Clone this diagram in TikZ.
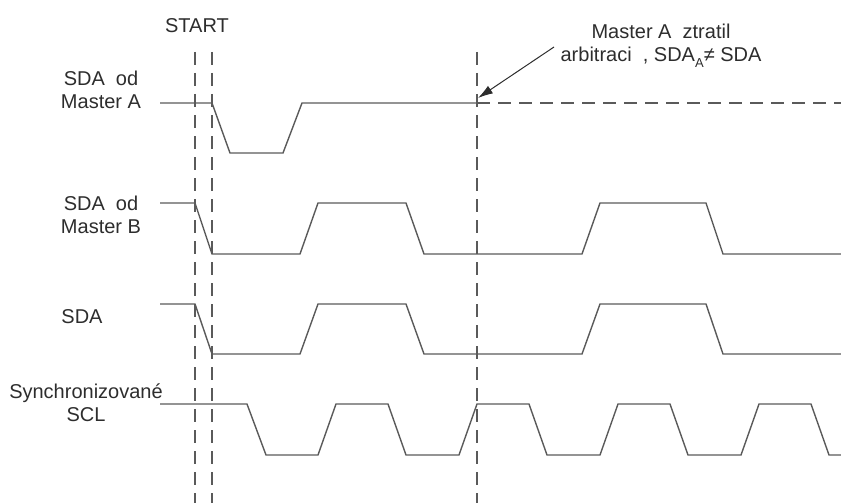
\documentclass[tikz,border=0pt]{standalone}
\usepackage{fontspec}
\setmainfont{Liberation Sans}
\usetikzlibrary{arrows.meta}
\definecolor{wire}{RGB}{90,90,90}
\definecolor{ink}{RGB}{45,45,45}

\begin{document}
\begin{tikzpicture}[x=1pt, y=-1pt, sig/.style={draw=wire, line width=1.4pt}, guide/.style={draw=wire, line width=1.2pt, dash pattern=on 13pt off 8pt}, lbl/.style={text=ink, font=\fontsize{20}{23}\selectfont, align=center, inner sep=0pt}]

        \useasboundingbox (0,0) rectangle (841,503);

        % labels
        \node[lbl] (start) at (197,26) {START};
        \node[lbl] (masterA) at (101,90) {SDA~~od\\Master A};
        \node[lbl] (masterB) at (101,215) {SDA~~od\\Master B};
        \node[lbl] (sda) at (82,317) {SDA};
        \node[lbl] (scl) at (86,403) {Synchronizované\\SCL};
        \node[lbl] (lost) at (661,46) {Master A~~ztratil\\arbitraci~~, SDA\raisebox{-6pt}{\fontsize{13}{13}\selectfont A}≠ SDA};

        % guide lines
        \draw[guide] (195,52) -- (195,503);
        \draw[guide] (212,52) -- (212,503);
        \draw[guide] (477,52) -- (477,503);

        % waveforms
        \draw[sig] (160,103) -- (212,103) -- (230,153) -- (283,153) -- (302,103) -- (477,103);
        \draw[guide] (477,103) -- (841,103);
        \draw[sig] (160,203) -- (195,203) -- (212,254) -- (300,254) -- (318,203) -- (406,203) -- (424,254)
            -- (582,254) -- (600,203) -- (706,203) -- (723,254) -- (841,254);
        \draw[sig] (160,304) -- (195,304) -- (212,354) -- (300,354) -- (318,304) -- (406,304) -- (424,354)
            -- (582,354) -- (600,304) -- (706,304) -- (723,354) -- (841,354);
        \draw[sig] (160,404) -- (247,404) -- (266,455) -- (318,455) -- (336,404) -- (388,404) -- (406,455)
            -- (459,455) -- (477,404) -- (529,404) -- (547,455) -- (600,455) -- (618,404) -- (670,404)
            -- (688,455) -- (741,455) -- (759,404) -- (811,404) -- (829,455) -- (841,455);

        % arrow
        \coordinate (tail) at (554,47);
        \coordinate (loss) at (478,98);
        \draw[draw=ink, line width=1pt, -{Latex[length=15pt,width=9pt]}] (tail) -- (loss);
\end{tikzpicture}
\end{document}
